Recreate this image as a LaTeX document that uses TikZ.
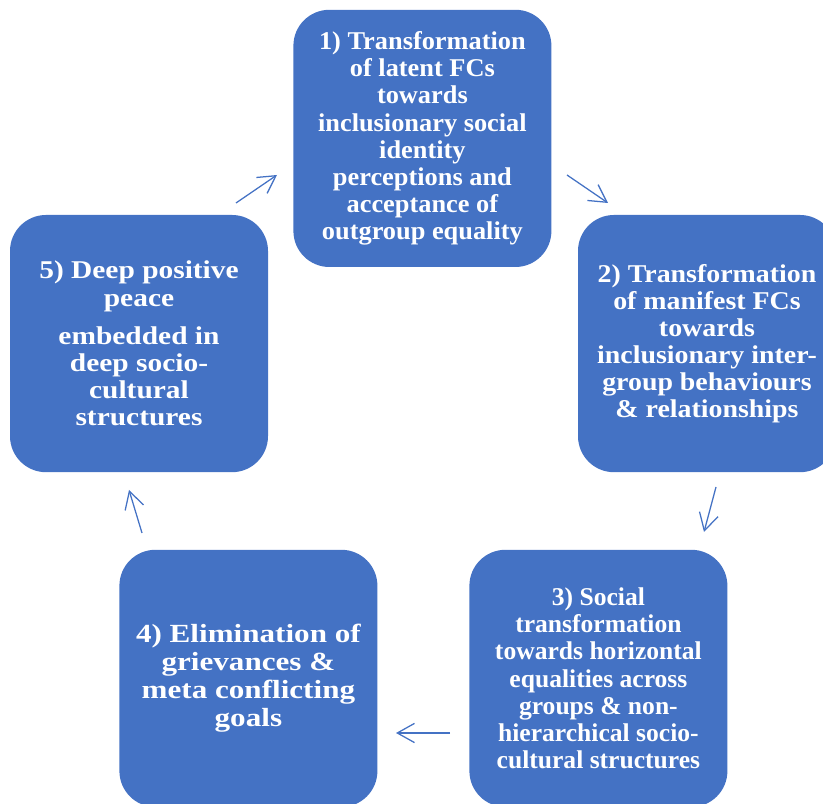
\documentclass[tikz,border=0pt]{standalone}
\usepackage{fontspec}
\setmainfont{Liberation Serif}
\usetikzlibrary{arrows.meta}
\definecolor{stageblue}{HTML}{4472C4}
\newcommand{\stagefont}[1]{\fontsize{18.2}{19.3}\selectfont\addfontfeatures{FakeStretch=#1}\bfseries}

\begin{document}
\begin{tikzpicture}[
  stage/.style={rounded corners=0.9cm,fill=stageblue,draw=none,
    minimum width=6.45cm,minimum height=6.43cm,align=center,inner sep=2pt,
    text=white,font=\stagefont{1.03}},
  arr/.style={-{Straight Barb[length=4.3mm,width=4.8mm]},line width=0.9pt,stageblue}]

\clip (0,0) rectangle (20.575,20.1);

\node[stage] (s1) at (10.56,16.64)
  {1) Transformation\\of latent FCs\\towards\\inclusionary social\\identity\\perceptions and\\acceptance of\\outgroup equality};
\node[stage,font=\stagefont{1.09}] (s2) at (17.675,11.51)
  {2) Transformation\\of manifest FCs\\towards\\inclusionary inter-\\group behaviours\\\& relationships};
\node[stage,font=\stagefont{1.0}] (s3) at (14.96,3.14)
  {3) Social\\transformation\\towards horizontal\\equalities across\\groups \& non-\\hierarchical socio-\\cultural structures};
\node[stage,font=\stagefont{1.19}\fontsize{18.6}{19.8}\selectfont] (s4) at (6.21,3.14)
  {4) Elimination of\\grievances \&\\meta conflicting\\goals};
\node[stage,font=\stagefont{1.15}] (s5) at (3.475,11.51)
  {5) Deep positive\\peace\\[7.8pt]embedded in\\deep socio-\\cultural\\structures};

% connectors between the stages
\coordinate (a51) at (5.90,15.025);  \coordinate (b51) at (6.925,15.725);
\coordinate (a12) at (14.175,15.725); \coordinate (b12) at (15.20,15.025);
\coordinate (a23) at (17.90,7.925);  \coordinate (b23) at (17.60,6.80);
\coordinate (a34) at (11.25,1.775);  \coordinate (b34) at (9.90,1.775);
\coordinate (a45) at (3.55,6.775);   \coordinate (b45) at (3.225,7.85);
\draw[arr] (a51)--(b51); \draw[arr] (a12)--(b12); \draw[arr] (a23)--(b23);
\draw[arr] (a34)--(b34); \draw[arr] (a45)--(b45);
\end{tikzpicture}
\end{document}
